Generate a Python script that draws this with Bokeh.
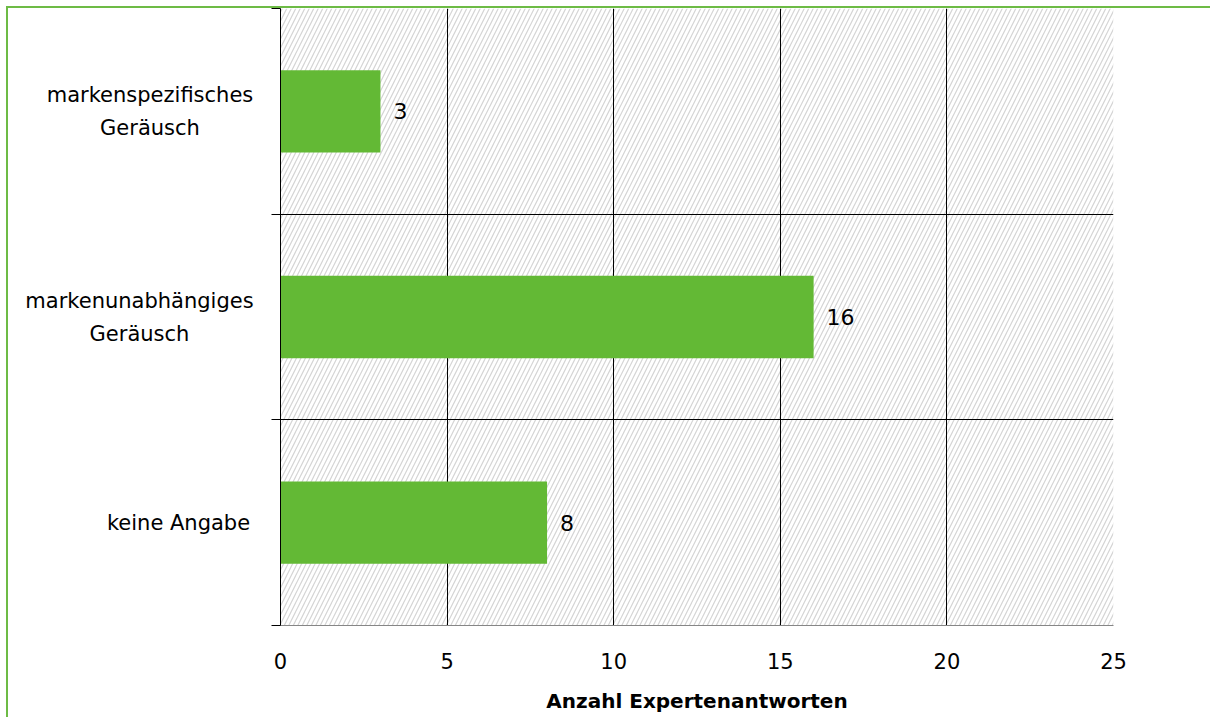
from bokeh.plotting import figure
from bokeh.layouts import row
from bokeh.models import Range1d, FixedTicker, ColumnDataSource
from bokeh.core.properties import value
from bokeh.embed import file_html
from bokeh.resources import INLINE

categories = ["keine Angabe", "markenunabhängiges\nGeräusch", "markenspezifisches\nGeräusch"]
counts = [8, 16, 3]
x_ticks = [0, 5, 10, 15, 20, 25]
x_title = "Anzahl Expertenantworten"

FONT = "DejaVu Sans"
BAR = "#63B935"
GREEN_FRAME = "#6DBB45"

n = len(categories)
ypos = [i + 0.5 for i in range(n)]
y_range = Range1d(0, n)

H = 709
TOP, BOTTOM = 0, 92
LEFT_W = 262

# ---------- left panel: category labels, centred lines ----------
label_centers = [170, 131, 141.5]   # centre x of each label block (px in left panel)
LINE_GAP = 33
lx, ly, lt, loff = [], [], [], []
for yc, cat, cx in zip(ypos, categories, label_centers):
    lines = cat.split("\n")
    k = len(lines)
    for i, ln in enumerate(lines):
        lx.append(cx)
        ly.append(yc)
        lt.append(ln)
        loff.append((i - (k - 1) / 2) * LINE_GAP)

left = figure(width=LEFT_W, height=H, output_backend="svg", toolbar_location=None,
              x_range=Range1d(0, LEFT_W), y_range=y_range,
              min_border_left=0, min_border_right=0, min_border_top=TOP, min_border_bottom=BOTTOM,
              x_axis_type=None, y_axis_type=None)
left.outline_line_color = None
left.xgrid.visible = False
left.ygrid.visible = False
lsrc = ColumnDataSource(dict(x=lx, y=ly, t=lt, off=loff))
left.text(x="x", y="y", text="t", y_offset="off", source=lsrc, text_align="center",
          text_baseline="alphabetic", text_font=value(FONT), text_font_size="21px",
          text_color="#000000")

# ---------- main chart ----------
p = figure(width=940, height=H, output_backend="svg", toolbar_location=None,
           x_range=Range1d(0, 25), y_range=y_range,
           min_border_left=10, min_border_top=TOP, min_border_right=97, min_border_bottom=BOTTOM)
p.outline_line_color = None

# hatched background (below the grid)
p.quad(left=[x_ticks[0]], right=[x_ticks[-1]], bottom=[0], top=[n],
       fill_color=None, line_color=None, hatch_pattern="/", hatch_color="#d4d4d4",
       hatch_scale=9, hatch_weight=1.2, level="image")

src = ColumnDataSource(dict(y=ypos, v=counts, lab=[str(c) for c in counts]))
p.hbar(y="y", right="v", left=0, height=0.4, source=src, fill_color=BAR, line_color=None)
p.text(x="v", y="y", text="lab", source=src, x_offset=13, text_align="left",
       text_baseline="middle", text_font=value(FONT), text_font_size="22px", text_color="#000000")

# x axis
p.xaxis.ticker = FixedTicker(ticks=x_ticks)
p.xaxis.major_tick_out = 0
p.xaxis.major_tick_in = 0
p.xaxis.minor_tick_out = 0
p.xaxis.minor_tick_in = 0
p.xaxis.axis_line_color = "#868686"
p.xaxis.major_label_standoff = 27
p.xaxis.major_label_text_font = FONT
p.xaxis.major_label_text_font_size = "21px"
p.xaxis.major_label_text_color = "#000000"
p.xaxis.axis_label = x_title
p.xaxis.axis_label_text_font = FONT
p.xaxis.axis_label_text_font_style = "bold"
p.xaxis.axis_label_text_font_size = "20px"
p.xaxis.axis_label_text_color = "#000000"
p.xaxis.axis_label_standoff = 17

# y axis: only ticks at category boundaries
p.yaxis.ticker = FixedTicker(ticks=[], minor_ticks=list(range(n + 1)))
p.yaxis.major_tick_out = 0
p.yaxis.major_tick_in = 0
p.yaxis.minor_tick_out = 9
p.yaxis.minor_tick_in = 0
p.yaxis.minor_tick_line_color = "#000000"
p.yaxis.axis_line_color = "#000000"
p.yaxis.major_label_standoff = 0
p.yaxis.major_label_text_font_size = "0px"

# grid
p.xgrid.ticker = FixedTicker(ticks=x_ticks[1:])
p.xgrid.grid_line_color = "#000000"
p.xgrid.grid_line_width = 1
p.ygrid.ticker = FixedTicker(ticks=list(range(1, n)))
p.ygrid.grid_line_color = "#000000"
p.ygrid.grid_line_width = 1

layout = row(left, p)
layout.styles = {"margin-left": "6px", "margin-top": "6px",
                 "border-left": "2px solid " + GREEN_FRAME, "border-top": "2px solid " + GREEN_FRAME}

open("out.html", "w").write(file_html(layout, INLINE))
